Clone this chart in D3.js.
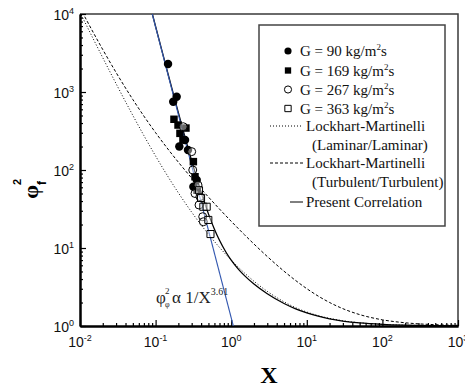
<!DOCTYPE html>
<html><head><meta charset="utf-8">
<script src="https://cdn.jsdelivr.net/npm/d3@7/dist/d3.min.js"></script>
<style>
html,body{margin:0;padding:0;background:#fff;}
svg{display:block;}
</style></head>
<body>
<svg id="chart" width="465" height="388"></svg>
<script>
// ---------------- data ----------------
const xTickValues = [0.01, 0.1, 1, 10, 100, 1000];
const xTickExps = ["-2", "-1", "0", "1", "2", "3"];
const yTickValues = [1, 10, 100, 1000, 10000];
const yTickExps = ["0", "1", "2", "3", "4"];

// measured data
const g90X   = [0.146, 0.190, 0.171, 0.206, 0.245, 0.268, 0.316, 0.350];
const g90Y   = [2290, 870, 750, 200, 242, 180, 61, 74.5];
const g169X  = [0.175, 0.198, 0.210, 0.230, 0.252, 0.316, 0.332, 0.353];
const g169Y  = [447, 377, 295, 242, 345, 128, 82, 55];
const g267X  = [0.232, 0.300, 0.310, 0.332, 0.386, 0.375, 0.420, 0.428, 0.364];
const g267Y  = [359, 172, 100, 50, 45.5, 35.6, 25.2, 21.7, 64];
const g363X  = [0.428, 0.474, 0.498, 0.532, 0.399, 0.375];
const g363Y  = [33.8, 33.8, 22.9, 15.1, 43.8, 55];

// Lockhart-Martinelli curves
const lmX   = [0.01, 0.015, 0.02, 0.03, 0.05, 0.07, 0.1, 0.15, 0.2, 0.3, 0.5, 0.7, 1, 1.5, 2, 3, 5, 7, 10, 20, 30, 50, 100, 200, 500, 1000];
const lamY  = [10501, 4779, 2751, 1279, 501, 276.5, 151, 78.8, 51, 28.8, 15, 10.18, 7, 4.78, 3.75, 2.78, 2.04, 1.73, 1.51, 1.2525, 1.168, 1.1004, 1.0501, 1.025, 1.01, 1.005];
const turbY = [12001, 5779, 3501, 1779, 801, 490.8, 301, 178.8, 126, 78.8, 45, 31.6, 22, 14.78, 11.25, 7.78, 5.04, 3.88, 3.01, 2.0025, 1.668, 1.4004, 1.2001, 1.1, 1.04, 1.02];

// Present correlation
const pcX = [0.09, 0.1, 0.12, 0.15, 0.2, 0.25, 0.3, 0.35, 0.4, 0.45, 0.5, 0.6, 0.7, 0.85, 1, 1.25, 1.5, 2, 3, 5, 7, 10, 20, 50, 100, 200, 500, 1000];
const pcY = [10242, 6922, 3522, 1547, 542.8, 245.2, 130.9, 78.6, 51.8, 36.6, 27.4, 17.4, 12.55, 8.88, 6.98, 5.32, 4.42, 3.45, 2.59, 1.943, 1.672, 1.47, 1.235, 1.094, 1.047, 1.0235, 1.0094, 1.0047];

// power-law guide line  phi^2 ~ 1/X^3.61
const plX = [0.0903, 1.067];
const plY = [10000, 1];

const legendLabels = ["G = 90 kg/m", "G = 169 kg/m", "G = 267 kg/m", "G = 363 kg/m"];

// ---------------- layout ----------------
const svg = d3.select("#chart");
const L = 80, R = 458, T = 14, B = 326;
const x = d3.scaleLog().domain([0.01, 1000]).range([L, R]);
const y = d3.scaleLog().domain([1, 10000]).range([B, T]);

svg.append("defs").append("clipPath").attr("id", "clip")
  .append("rect").attr("x", L).attr("y", T).attr("width", R - L).attr("height", B - T);

const minorX = x.ticks().filter(v => !xTickValues.some(t => Math.abs(t - v) / t < 1e-9));
const minorY = y.ticks().filter(v => !yTickValues.some(t => Math.abs(t - v) / t < 1e-9));

// frame top/right
svg.append("path").attr("d", `M${L},${T}H${R}V${B}`).attr("fill", "none")
  .attr("stroke", "#3a3a3a").attr("stroke-width", 1.5);

// axes
const axX = svg.append("g").attr("transform", `translate(0,${B})`);
axX.call(d3.axisBottom(x).tickValues(minorX).tickSize(-3).tickSizeOuter(0).tickFormat(""));
const axX2 = svg.append("g").attr("transform", `translate(0,${B})`);
axX2.call(d3.axisBottom(x).tickValues(xTickValues).tickSize(-6).tickSizeOuter(0).tickFormat(""));
const axY = svg.append("g").attr("transform", `translate(${L},0)`);
axY.call(d3.axisLeft(y).tickValues(minorY).tickSize(-3).tickSizeOuter(0).tickFormat(""));
const axY2 = svg.append("g").attr("transform", `translate(${L},0)`);
axY2.call(d3.axisLeft(y).tickValues(yTickValues).tickSize(-6).tickSizeOuter(0).tickFormat(""));
svg.selectAll(".domain").attr("stroke", "#000").attr("stroke-width", 2);
svg.selectAll(".tick line").attr("stroke", "#000").attr("stroke-width", 1.2);

// tick labels
const tickFont = "'Liberation Sans', Arial, sans-serif";
xTickValues.forEach((v, i) => {
  const t = svg.append("text").attr("x", x(v)).attr("y", 347).attr("text-anchor", "middle")
    .attr("font-family", tickFont).attr("font-size", 14).attr("fill", "#111");
  t.append("tspan").text("10");
  t.append("tspan").attr("dy", -6).attr("font-size", 9).text(xTickExps[i]);
});
yTickValues.forEach((v, i) => {
  const t = svg.append("text").attr("x", 74).attr("y", y(v) + 6).attr("text-anchor", "end")
    .attr("font-family", tickFont).attr("font-size", 14).attr("fill", "#111");
  t.append("tspan").text("10");
  t.append("tspan").attr("dy", -6).attr("font-size", 9).text(yTickExps[i]);
});

// axis titles
const serif = "'Liberation Serif', 'Times New Roman', serif";
svg.append("text").attr("x", (L + R) / 2).attr("y", 383).attr("text-anchor", "middle")
  .attr("font-family", serif).attr("font-weight", "bold").attr("font-size", 24).text("X");
const yl = svg.append("g").attr("transform", "translate(31,192) rotate(-90)");
yl.append("text").attr("x", 0).attr("y", 7).attr("text-anchor", "middle")
  .attr("font-family", serif).attr("font-weight", "bold").attr("font-size", 22).text("φ");
yl.append("text").attr("x", 7).attr("y", -10).attr("font-family", "'Liberation Sans', sans-serif")
  .attr("font-weight", "bold").attr("font-size", 11).text("2");
yl.append("text").attr("x", 7).attr("y", 15).attr("font-family", "'Liberation Sans', sans-serif")
  .attr("font-weight", "bold").attr("font-size", 12).text("f");

// curves
const plot = svg.append("g").attr("clip-path", "url(#clip)");
const line = d3.line().x(d => x(d[0])).y(d => y(d[1])).curve(d3.curveMonotoneX);
plot.append("path").datum(d3.zip(lmX, lamY)).attr("d", line).attr("fill", "none")
  .attr("stroke", "#000").attr("stroke-width", 1).attr("stroke-dasharray", "1,2");
plot.append("path").datum(d3.zip(lmX, turbY)).attr("d", line).attr("fill", "none")
  .attr("stroke", "#000").attr("stroke-width", 1).attr("stroke-dasharray", "3,2");
plot.append("path").datum(d3.zip(pcX, pcY)).attr("d", line).attr("fill", "none")
  .attr("stroke", "#000").attr("stroke-width", 1.3);
plot.append("path").datum(d3.zip(plX, plY)).attr("d", d3.line().x(d => x(d[0])).y(d => y(d[1])))
  .attr("fill", "none").attr("stroke", "#3358b0").attr("stroke-width", 1.1);

// scatter
const sym = {
  fc: d3.symbol().type(d3.symbolCircle).size(56),
  fs: d3.symbol().type(d3.symbolSquare).size(56),
  oc: d3.symbol().type(d3.symbolCircle).size(50),
  os: d3.symbol().type(d3.symbolSquare).size(50)
};
function drawSet(xs, ys, s, filled) {
  plot.append("g").selectAll("path").data(d3.zip(xs, ys)).join("path")
    .attr("transform", d => `translate(${x(d[0])},${y(d[1])})`)
    .attr("d", sym[s]).attr("fill", filled ? "#000" : "#fff")
    .attr("fill-opacity", filled ? 1 : 0.4)
    .attr("stroke", "#000").attr("stroke-width", filled ? 0 : 1);
}
drawSet(g90X, g90Y, "fc", true);
drawSet(g169X, g169Y, "fs", true);
drawSet(g267X, g267Y, "oc", false);
drawSet(g363X, g363Y, "os", false);

// annotation
const ann = svg.append("g").attr("font-family", serif).attr("fill", "#222");
ann.append("text").attr("x", 156).attr("y", 303).attr("font-size", 17).text("φ");
ann.append("text").attr("x", 165).attr("y", 294).attr("font-size", 9).text("2");
ann.append("text").attr("x", 165).attr("y", 307).attr("font-size", 8).text("φ");
const at = ann.append("text").attr("x", 172).attr("y", 303).attr("font-size", 17);
at.append("tspan").text("α 1/X");
at.append("tspan").attr("dy", -8).attr("font-size", 10).text("3.61");

// legend
const lg = svg.append("g").attr("font-family", serif).attr("font-size", 15).attr("fill", "#111");
lg.append("rect").attr("x", 259).attr("y", 25).attr("width", 186).attr("height", 201)
  .attr("fill", "#fff").attr("stroke", "#444").attr("stroke-width", 1.5);
const rows = [51, 70.5, 89.5, 108.5];
const legSyms = [["fc", true], ["fs", true], ["oc", false], ["os", false]];
rows.forEach((ry, i) => {
  lg.append("path").attr("transform", `translate(288,${ry})`)
    .attr("d", d3.symbol().type(i % 2 === 0 ? d3.symbolCircle : d3.symbolSquare).size(40))
    .attr("fill", legSyms[i][1] ? "#000" : "#fff").attr("stroke", "#000")
    .attr("stroke-width", legSyms[i][1] ? 0 : 1);
  const t = lg.append("text").attr("x", 300).attr("y", ry + 5);
  t.append("tspan").text(legendLabels[i]);
  t.append("tspan").attr("dy", -6).attr("font-size", 9).text("2");
  t.append("tspan").attr("dy", 6).text("s");
});
const lineRows = [
  {y: 126, x1: 270, dash: "1,2", txt: "Lockhart-Martinelli", sub: "(Laminar/Laminar)"},
  {y: 163, x1: 270, dash: "3,2", txt: "Lockhart-Martinelli", sub: "(Turbulent/Turbulent)"},
  {y: 202, x1: 290, dash: null, txt: "Present Correlation", sub: null}
];
lineRows.forEach(r => {
  const ln = lg.append("line").attr("x1", r.x1).attr("x2", 303).attr("y1", r.y).attr("y2", r.y)
    .attr("stroke", "#000").attr("stroke-width", 1);
  if (r.dash) ln.attr("stroke-dasharray", r.dash);
  lg.append("text").attr("x", 306).attr("y", r.y + 5).text(r.txt);
  if (r.sub) lg.append("text").attr("x", 312).attr("y", r.y + 24).text(r.sub);
});
</script>
</body></html>
